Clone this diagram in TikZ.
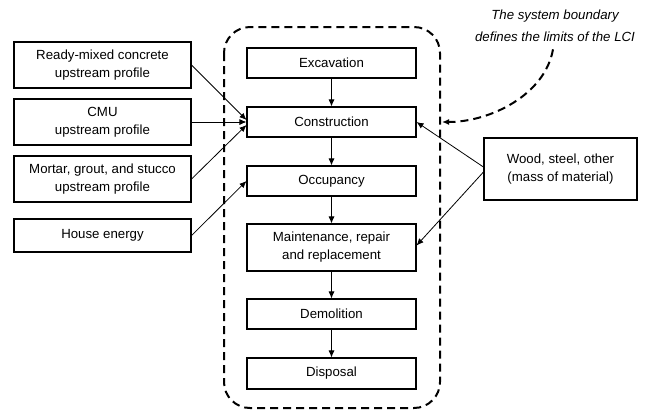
\documentclass[tikz,border=0pt]{standalone}
\usepackage{fontspec}
\setmainfont{Liberation Sans}
\usetikzlibrary{arrows.meta}

\tikzset{
  box/.style={draw, line width=1.1bp, align=center, inner sep=1pt,
    font=\fontsize{13.3}{18}\selectfont},
  flow/.style={-{Latex[length=7bp,width=6bp]}, line width=0.8bp}
}

\begin{document}
\begin{tikzpicture}[x=1bp, y=-1bp]
    \useasboundingbox (0,0) rectangle (656,410);
    % system boundary
    \draw[dashed, dash pattern=on 8bp off 5bp, line width=2bp, rounded corners=26bp]
      (224,27) rectangle (440,408);
    % life cycle stages
    \node[box, minimum width=169bp, minimum height=30bp] (exc) at (331.5,63) {Excavation};
    \node[box, minimum width=169bp, minimum height=30bp] (con) at (331.5,122) {Construction};
    \node[box, minimum width=169bp, minimum height=30bp] (occ) at (331.5,181) {Occupancy};
    \node[box, minimum width=169bp, minimum height=47bp] (mnt) at (331.5,247.5) {Maintenance, repair\\and replacement};
    \node[box, minimum width=169bp, minimum height=30bp] (dem) at (331.5,314) {Demolition};
    \node[box, minimum width=169bp, minimum height=31bp] (dis) at (331.5,373.5) {Disposal};
    % inputs
    \node[box, minimum width=177bp, minimum height=46bp] (rmc) at (102.5,65) {Ready-mixed concrete\\upstream profile};
    \node[box, minimum width=177bp, minimum height=46bp] (cmu) at (102.5,122) {CMU\\upstream profile};
    \node[box, minimum width=177bp, minimum height=46bp] (mgs) at (102.5,179) {Mortar, grout, and stucco\\upstream profile};
    \node[box, minimum width=177bp, minimum height=33bp] (eng) at (102.5,235.5) {House energy};
    \node[box, minimum width=153bp, minimum height=62bp] (mat) at (560.5,169) {Wood, steel, other\\(mass of material)};
    % note
    \node[align=center, font=\fontsize{13.3}{22}\selectfont\itshape] (note) at (555,26)
      {The system boundary\\defines the limits of the LCI};
    \coordinate (bnd) at (442,122);

    \foreach \a/\b in {exc/con, con/occ, occ/mnt, mnt/dem, dem/dis}
      \draw[flow] (\a) -- (\b);

    \draw[flow] (rmc.east) -- ([yshift=2bp]con.west);
    \draw[flow] (cmu.east) -- (con.west);
    \draw[flow] (mgs.east) -- ([yshift=-3bp]con.west);
    \draw[flow] (eng.east) -- (occ.west);
    \draw[flow] ([yshift=2bp]mat.west) -- (con.east);
    \draw[flow] ([yshift=-3bp]mat.west) -- ([yshift=2bp]mnt.east);
    \draw[flow, dashed, dash pattern=on 8bp off 5bp, line width=2bp]
      (note.south) ++(-2,4) .. controls (545,95) and (490,122) .. (bnd);
\end{tikzpicture}
\end{document}
